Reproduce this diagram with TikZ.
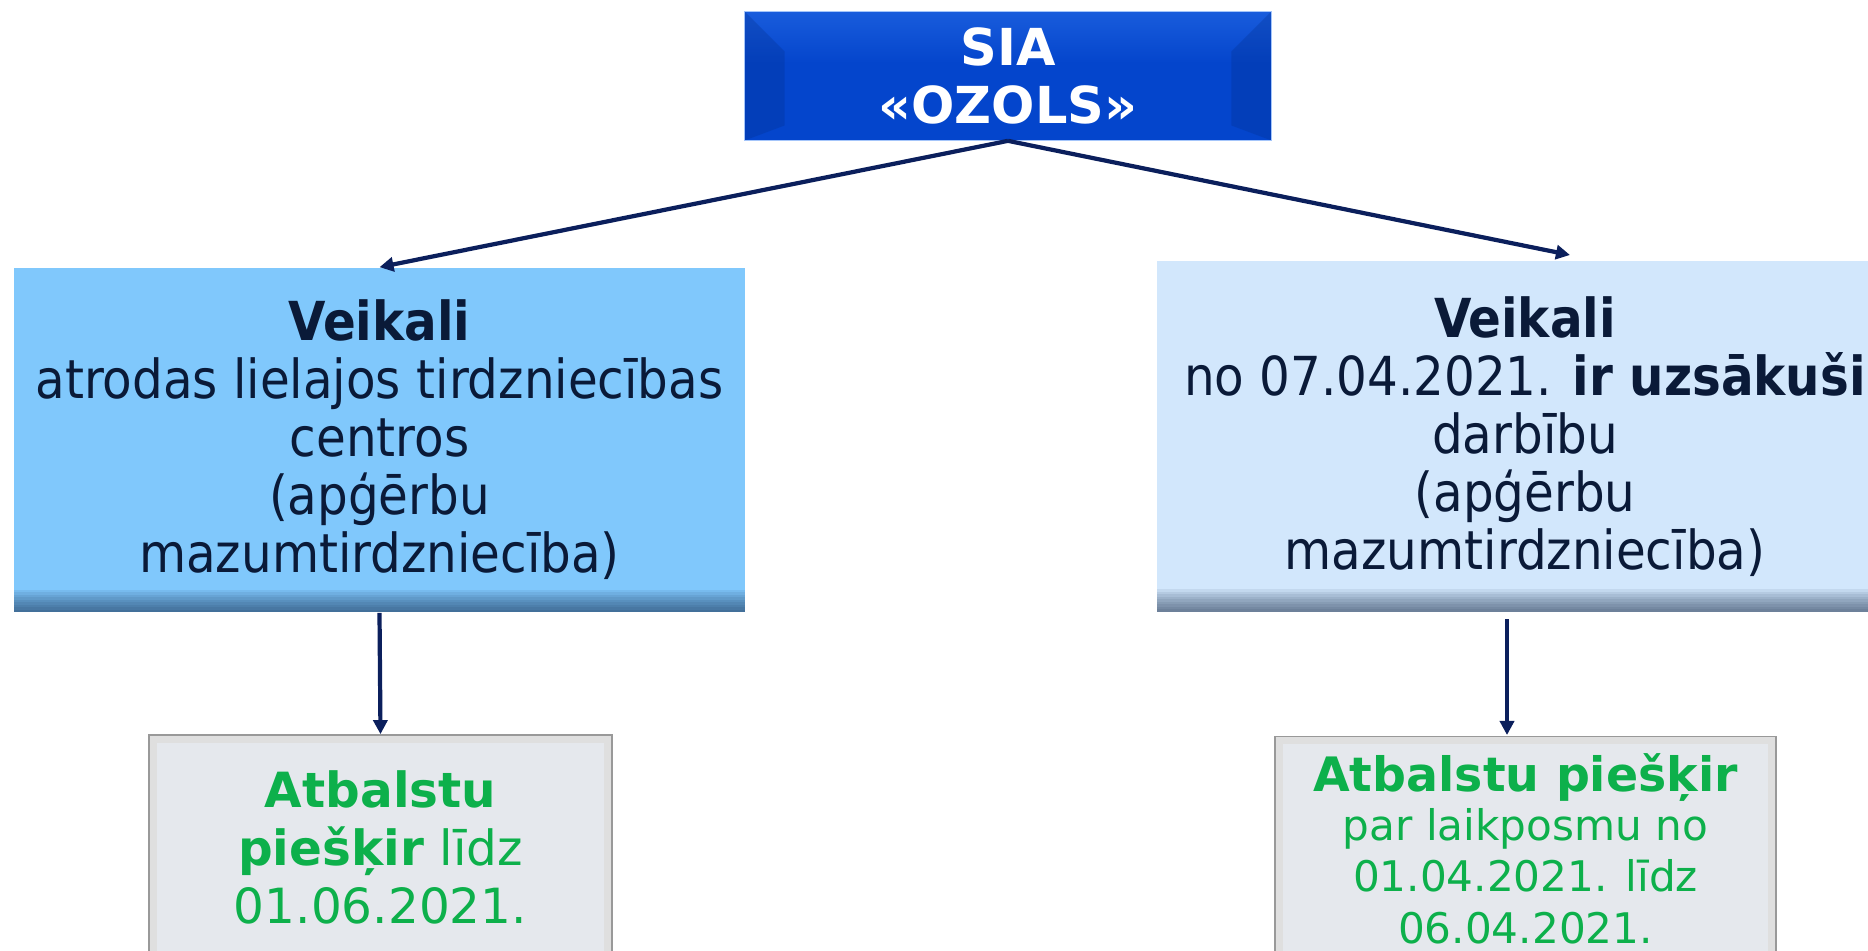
\documentclass[tikz,border=0pt]{standalone}
\usepackage{fontspec}
\setmainfont{DejaVu Sans}
\newfontfamily\narrowfont{DejaVu Sans Condensed}
\usetikzlibrary{arrows.meta}
\definecolor{navy}{HTML}{0B1F5C}
\definecolor{ink}{HTML}{0A1A38}
\definecolor{sky}{HTML}{80C8FC}
\definecolor{pale}{HTML}{D2E7FC}
\definecolor{mist}{HTML}{E5E8ED}
\definecolor{leaf}{HTML}{0DB04B}
\definecolor{royal}{HTML}{0445CC}
\definecolor{royalmid}{HTML}{1E62E0}
\definecolor{royaltop}{HTML}{4A8CF6}
\pgfdeclareverticalshading{headshade}{100bp}{color(0bp)=(royal); color(55bp)=(royal); color(80bp)=(royalmid); color(100bp)=(royaltop)}

\begin{document}
\begin{tikzpicture}
  [x=0.02cm,y=-0.02cm,every node/.style={rectangle,align=center,inner sep=0pt}]
  \tikzstyle{link} = [draw=navy,line width=2.4pt,-{Triangle[length=8pt,width=8pt]}]
  \tikzstyle{head} = [minimum width=10.54cm,minimum height=2.58cm,shading=headshade,
    draw=royaltop!50,text=white,font=\bfseries\fontsize{29}{33}\selectfont,
    path picture={\fill[royal!70!black,opacity=.3] (path picture bounding box.north west) -- ([xshift=.8cm,yshift=-.8cm]path picture bounding box.north west)
                    -- ([xshift=.8cm,yshift=.3cm]path picture bounding box.south west) -- (path picture bounding box.south west) -- cycle;
                  \fill[royal!70!black,opacity=.3] (path picture bounding box.north east) -- ([xshift=-.8cm,yshift=-.8cm]path picture bounding box.north east)
                    -- ([xshift=-.8cm,yshift=.3cm]path picture bounding box.south east) -- (path picture bounding box.south east) -- cycle;}]
  \tikzstyle{shop} = [minimum height=6.9cm,text=ink,font=\narrowfont\fontsize{30.6}{33}\selectfont,
    path picture={\foreach \k in {1,...,9}
                    \fill[ink,opacity=.07] ([yshift=\k*0.05cm]path picture bounding box.south west) rectangle (path picture bounding box.south east);}]
  \tikzstyle{aid} = [fill=mist,draw=gray!80,line width=1pt,text=leaf,
    path picture={\draw[gray!45,line width=4pt] (path picture bounding box.south west) rectangle (path picture bounding box.north east);
                  \draw[gray!25,line width=9pt] (path picture bounding box.south west) rectangle (path picture bounding box.north east);}]
  \useasboundingbox (0,0) rectangle (1868,950);
  \clip (0,0) rectangle (1868,950);

  \node[head] (firm) at (1008,76) {SIA\\«OZOLS»};
  \node[shop,fill=sky,minimum width=14.62cm]
    (mall) at (379.5,440) {\textbf{Veikali}\\atrodas lielajos tirdzniecības\\centros\\(apģērbu\\mazumtirdzniecība)};
  \node[shop,fill=pale,minimum width=14.72cm,minimum height=7.02cm]
    (open) at (1525,436.5) {\textbf{Veikali}\\no 07.04.2021. \textbf{ir uzsākuši}\\darbību\\(apģērbu\\mazumtirdzniecība)};
  \node[aid,minimum width=9.26cm,minimum height=4.48cm,font=\fontsize{27.6}{33}\selectfont]
    (aidmall) at (380.5,847) {\textbf{Atbalstu}\\\textbf{piešķir} līdz\\01.06.2021.};
  \node[aid,minimum width=10.02cm,minimum height=4.5cm,font=\fontsize{24}{29.5}\selectfont]
    (aidopen) at (1525.5,849) {{\fontsize{27}{29.5}\selectfont\textbf{Atbalstu piešķir}}\\[-2pt]par laikposmu no\\01.04.2021. līdz\\06.04.2021.};

  \coordinate (opentop) at (1570,255);
  \coordinate (openbot) at (1507,619);
  \coordinate (aidtop) at (1507,735);

\foreach \source/\dest in {firm.south/mall.north,firm.south/opentop,mall.south/aidmall.north,openbot/aidtop}
   \draw[link] (\source) -- (\dest);

\end{tikzpicture}
\end{document}
